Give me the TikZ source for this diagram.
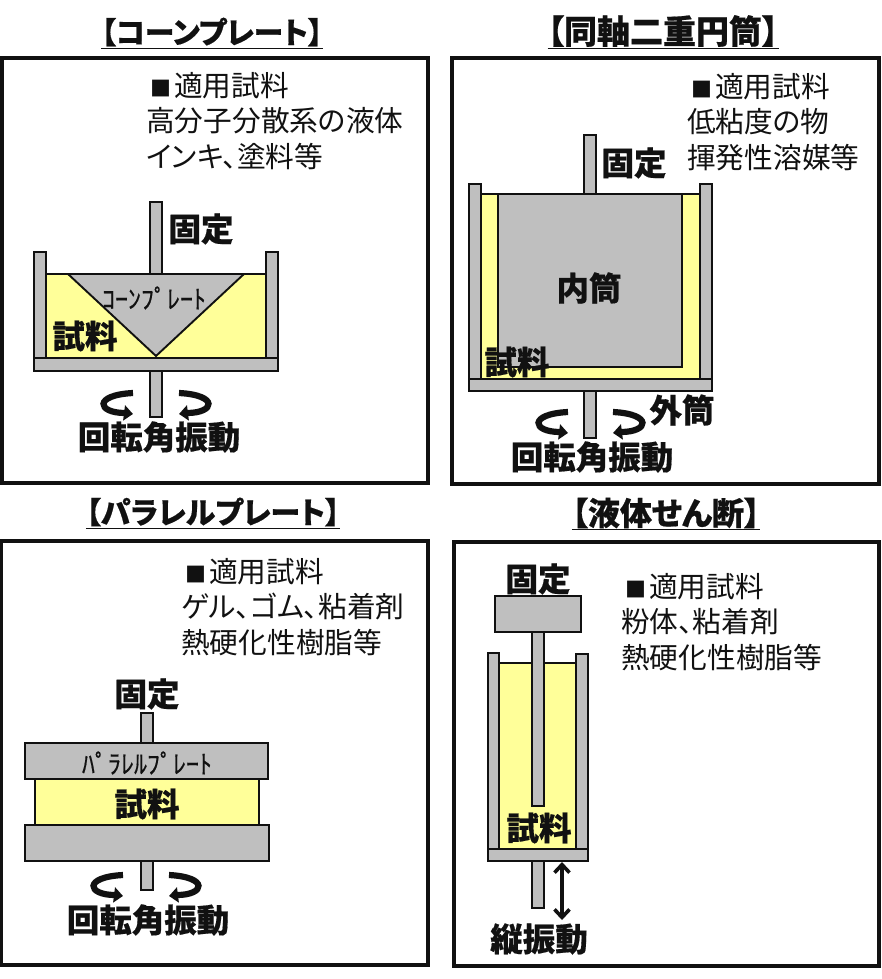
\documentclass[tikz,border=0pt]{standalone}
\usepackage{fontspec}
\setmainfont[RawFeature=+palt,BoldFeatures={FakeBold=0.5}]{Noto Sans CJK JP}
\newfontfamily\halfcjk[FakeBold=0.4]{Noto Sans CJK JP}
\usetikzlibrary{arrows.meta}
\definecolor{partgray}{HTML}{BFBFBF}
\definecolor{sampleyellow}{HTML}{FFFF99}
\definecolor{inkblack}{HTML}{111111}
\tikzset{
  panel/.style={draw=inkblack,line width=3.2pt},
  part/.style={draw=inkblack,fill=partgray,line width=1.9pt},
  sample/.style={draw=inkblack,fill=sampleyellow,line width=1.9pt},
  titletext/.style={font=\fontsize{#1}{34}\selectfont\bfseries,text=inkblack,inner sep=0pt},
  infotext/.style={font=\fontsize{28.7}{35.5}\selectfont,text=inkblack,inner sep=0pt,align=left,anchor=west},
  labeltext/.style={font=\fontsize{32.5}{36}\selectfont\bfseries,text=inkblack,inner sep=0pt},
  platetext/.style={font=\fontsize{26}{30}\selectfont\halfcjk,text=inkblack,inner sep=0pt},
  rotarrow/.pic={
    \draw[line width=6.2pt,inkblack,-{Triangle[length=9pt,width=15pt]}]
      (0,0) .. controls (-40,2) and (-36,20) .. (-8,20) -- (0,21);
  },
}
\newcommand{\infohead}{\hspace{4pt}{\fontsize{21}{21}\selectfont ■}\hspace{3pt}適用試料}
\begin{document}
\begin{tikzpicture}[x=1pt,y=-1pt]
  \useasboundingbox (0,0) rectangle (881,979);
  % frames
  \draw[panel] (2,58) rectangle (428,483);
  \draw[panel] (452,58) rectangle (879,484);
  \draw[panel] (1,541) rectangle (428,965);
  \draw[panel] (454,542) rectangle (879,966);
  % titles
  \node[titletext=29.8] (titlecone) at (212,33) {\underline{【コーンプレート】}};
  \node[titletext=33] (titlecyl) at (663,32) {\underline{【同軸二重円筒】}};
  \node[titletext=30] (titlepar) at (213,513) {\underline{【パラレルプレート】}};
  \node[titletext=32] (titleliq) at (666,514) {\underline{【液体せん断】}};
  % cone plate
  \node[infotext] (infocone) at (146,121) {\infohead\\高分子分散系の液体\\インキ、塗料等};
  \draw[part] (150,202) rectangle (162,274);
  \draw[sample] (46,274) rectangle (266,358);
  \draw[part] (34,252) rectangle (46,358);
  \draw[part] (266,252) rectangle (278,358);
  \draw[part] (68,274) -- (244,274) -- (156,356) -- cycle;
  \draw[part] (34,358) rectangle (278,371);
  \draw[part] (150,371) rectangle (162,417);
  \pic at (133,393) {rotarrow};
  \pic[xscale=-1] at (179,393) {rotarrow};
  \node[labeltext] (fixcone) at (201,229) {固定};
  \node[platetext] (namecone) at (154,298) {ｺｰﾝﾌﾟﾚｰﾄ};
  \node[labeltext] (samplecone) at (85,336) {試料};
  \node[labeltext] (motioncone) at (159,437) {回転角振動};
  % coaxial cylinder
  \node[infotext] (infocyl) at (687,122) {\infohead\\低粘度の物\\揮発性溶媒等};
  \draw[part] (584,135) rectangle (596,194);
  \draw[sample] (481,194) rectangle (700,379);
  \draw[part] (469,184) rectangle (481,379);
  \draw[part] (700,184) rectangle (712,379);
  \draw[part] (498,194) rectangle (682,367);
  \draw[part] (469,379) rectangle (712,391);
  \draw[part] (584,391) rectangle (596,438);
  \pic at (568,412) {rotarrow};
  \pic[xscale=-1] at (613,412) {rotarrow};
  \node[labeltext] (fixcyl) at (634,163) {固定};
  \node[labeltext] (innercyl) at (589,288) {内筒};
  \node[labeltext] (samplecyl) at (517,362) {試料};
  \node[labeltext] (outercyl) at (682,410) {外筒};
  \node[labeltext] (motioncyl) at (592,457) {回転角振動};
  % parallel plate
  \node[infotext] (infopar) at (181,607) {\infohead\\ゲル、ゴム、粘着剤\\熱硬化性樹脂等};
  \draw[part] (141,713) rectangle (153,743);
  \draw[sample] (35,779) rectangle (259,825);
  \draw[part] (25,743) rectangle (268,779);
  \draw[part] (25,825) rectangle (269,861);
  \draw[part] (141,861) rectangle (153,890);
  \pic at (123,875) {rotarrow};
  \pic[xscale=-1] at (169,875) {rotarrow};
  \node[labeltext] (fixpar) at (147,694) {固定};
  \node[platetext] (namepar) at (147,763) {ﾊﾟﾗﾚﾙﾌﾟﾚｰﾄ};
  \node[labeltext] (samplepar) at (147,804) {試料};
  \node[labeltext] (motionpar) at (148,920) {回転角振動};
  % liquid shear
  \node[infotext] (infoliq) at (621,622) {\infohead\\粉体、粘着剤\\熱硬化性樹脂等};
  \draw[sample] (499,663) rectangle (576,849);
  \draw[part] (488,653) rectangle (499,849);
  \draw[part] (576,654) rectangle (588,849);
  \draw[part] (532,632) rectangle (544,806);
  \draw[part] (495,596) rectangle (581,632);
  \draw[part] (488,849) rectangle (588,861);
  \draw[part] (532,861) rectangle (544,908);
  \coordinate (vibtop) at (562,862);
  \coordinate (vibbot) at (562,920);
  \draw[line width=3.6pt,inkblack,{Straight Barb[length=8pt,width=15pt]}-{Straight Barb[length=8pt,width=15pt]}] (vibtop) -- (vibbot);
  \node[labeltext] (fixliq) at (538,579) {固定};
  \node[labeltext] (sampleliq) at (539,828) {試料};
  \node[labeltext] (motionliq) at (539,939) {縦振動};
\end{tikzpicture}
\end{document}
